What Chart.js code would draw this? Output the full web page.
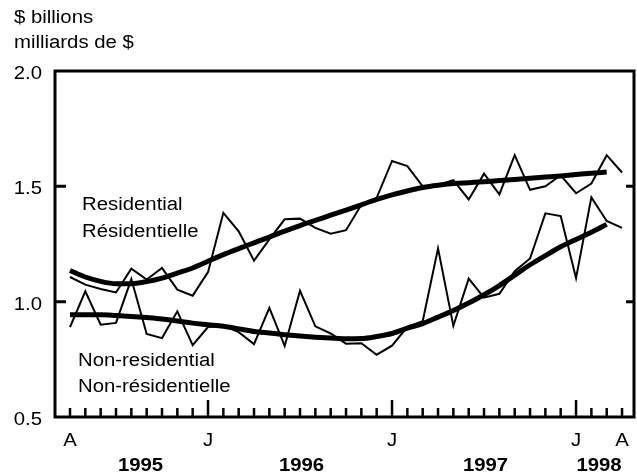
<!DOCTYPE html>
<html>
<head>
<meta charset="utf-8">
<script src="https://cdn.jsdelivr.net/npm/chart.js@4/dist/chart.umd.min.js"></script>
<style>
    html, body { margin: 0; padding: 0; background: #ffffff; }
    #wrap { width: 637px; height: 476px; }
</style>
</head>
<body>
<div id="wrap"><canvas id="chart" width="637" height="476"></canvas></div>
<script>
(function() {
    'use strict';

    // Mois d'avril 1995 a avril 1998
    var months = ['A','M','J','J','A','S','O','N','D',
                  'J','F','M','A','M','J','J','A','S','O','N','D',
                  'J','F','M','A','M','J','J','A','S','O','N','D',
                  'J','F','M','A'];
    var labelledMonths = [0, 9, 21, 33, 36];
    var majorMonths = [9, 21, 33];

    var years = ['1995', '1996', '1997', '1998'];
    var yearCentres = [4.6, 15.1, 27.1, 34.5];

    var yTicks = [0.5, 1.0, 1.5, 2.0];

    // Series brutes ($ milliards)
    var residential = [
        1.107, 1.074, 1.055, 1.040, 1.143, 1.096, 1.146, 1.052, 1.026,
        1.128, 1.385, 1.305, 1.178, 1.270, 1.357, 1.360, 1.320, 1.295, 1.310, 1.420, 1.450,
        1.610, 1.588, 1.500, 1.505, 1.527, 1.443, 1.555, 1.465, 1.635, 1.485, 1.500, 1.548,
        1.470, 1.512, 1.635, 1.560
    ];
    var nonResidential = [
        0.890, 1.045, 0.900, 0.908, 1.098, 0.860, 0.842, 0.958, 0.811,
        0.890, 0.896, 0.868, 0.816, 0.973, 0.808, 1.047, 0.893, 0.862, 0.818, 0.820, 0.770,
        0.809, 0.891, 0.915, 1.231, 0.895, 1.100, 1.017, 1.034, 1.132, 1.187, 1.383, 1.371,
        1.102, 1.452, 1.350, 1.320
    ];

    // Tendances
    var residentialTrend = [
        1.135, 1.107, 1.088, 1.078, 1.078, 1.087, 1.102, 1.124, 1.146,
        1.175, 1.204, 1.230, 1.255, 1.280, 1.306, 1.330, 1.352, 1.375, 1.397, 1.420, 1.443,
        1.463, 1.480, 1.495, 1.505, 1.512, 1.516, 1.520, 1.525, 1.530, 1.535, 1.540, 1.545,
        1.551, 1.557, 1.562
    ];
    var nonResidentialTrend = [
        0.943, 0.943, 0.943, 0.940, 0.936, 0.931, 0.925, 0.916, 0.907,
        0.900, 0.893, 0.882, 0.871, 0.864, 0.857, 0.851, 0.846, 0.842, 0.839, 0.840, 0.849,
        0.862, 0.885, 0.905, 0.933, 0.962, 0.994, 1.030, 1.070, 1.115, 1.160, 1.200, 1.238,
        1.270, 1.301, 1.335
    ];

    var FONT = '"Liberation Sans", Arial, Helvetica, sans-serif';
    var STRETCH = 1.13;

    function toPoints(values) {
        return values.map(function(v, i) { return { x: i, y: v }; });
    }

    function drawText(ctx, str, x, y, align, font) {
        ctx.save();
        ctx.font = font;
        ctx.fillStyle = '#000000';
        ctx.textAlign = align;
        ctx.textBaseline = 'alphabetic';
        ctx.translate(x, y);
        ctx.scale(STRETCH, 1);
        ctx.fillText(str, 0, 0);
        ctx.restore();
    }

    var frame = {
        id: 'frame',
        afterDraw: function(chart) {
            var ctx = chart.ctx;
            var a = chart.chartArea;
            var xs = chart.scales.x;
            var ys = chart.scales.y;
            var normal = '18px ' + FONT;
            var bold = 'bold 18px ' + FONT;

            ctx.save();
            ctx.strokeStyle = '#000000';
            ctx.lineCap = 'butt';

            // Cadre
            ctx.lineWidth = 3;
            ctx.strokeRect(a.left, a.top, a.right - a.left, a.bottom - a.top);

            // Graduations des mois
            ctx.lineWidth = 2.5;
            months.forEach(function(m, i) {
                var px = xs.getPixelForValue(i);
                var len = majorMonths.indexOf(i) >= 0 ? 17 : 9;
                ctx.beginPath();
                ctx.moveTo(px, a.bottom);
                ctx.lineTo(px, a.bottom - len);
                ctx.stroke();
            });

            // Graduations des valeurs (gauche et droite)
            ctx.lineWidth = 3;
            yTicks.forEach(function(v) {
                if (v <= ys.min || v >= ys.max) return;
                var py = ys.getPixelForValue(v);
                ctx.beginPath();
                ctx.moveTo(a.left, py);
                ctx.lineTo(a.left + 11, py);
                ctx.moveTo(a.right, py);
                ctx.lineTo(a.right - 8, py);
                ctx.stroke();
            });
            ctx.restore();

            // Etiquettes
            yTicks.forEach(function(v) {
                drawText(ctx, v.toFixed(1), 42, ys.getPixelForValue(v) + 8, 'right', normal);
            });
            labelledMonths.forEach(function(i) {
                drawText(ctx, months[i], xs.getPixelForValue(i), a.bottom + 29, 'center', normal);
            });
            years.forEach(function(y, k) {
                drawText(ctx, y, xs.getPixelForValue(yearCentres[k]), a.bottom + 54, 'center', bold);
            });

            drawText(ctx, '$ billions', 14, 23, 'left', normal);
            drawText(ctx, 'milliards de $', 14, 48, 'left', normal);

            drawText(ctx, 'Residential', 82, 210, 'left', normal);
            drawText(ctx, 'Résidentielle', 82, 237, 'left', normal);
            drawText(ctx, 'Non-residential', 78, 366, 'left', normal);
            drawText(ctx, 'Non-résidentielle', 78, 392, 'left', normal);
        }
    };

    function thin(values) {
        return {
            data: toPoints(values),
            borderColor: '#000000',
            borderWidth: 2,
            pointRadius: 0,
            tension: 0,
            fill: false
        };
    }

    function thick(values) {
        return {
            data: toPoints(values),
            borderColor: '#000000',
            borderWidth: 5,
            pointRadius: 0,
            cubicInterpolationMode: 'monotone',
            fill: false
        };
    }

    new Chart(document.getElementById('chart').getContext('2d'), {
        type: 'line',
        data: {
            datasets: [
                thin(residential),
                thin(nonResidential),
                thick(residentialTrend),
                thick(nonResidentialTrend)
            ]
        },
        options: {
            responsive: false,
            animation: false,
            layout: {
                padding: { left: 55, top: 71, right: 3, bottom: 59 }
            },
            plugins: {
                legend: { display: false },
                tooltip: { enabled: false }
            },
            scales: {
                x: {
                    type: 'linear',
                    min: -0.978,
                    max: 36.78,
                    display: false
                },
                y: {
                    min: 0.5,
                    max: 2.0,
                    display: false
                }
            }
        },
        plugins: [frame]
    });
})();
</script>
</body>
</html>
